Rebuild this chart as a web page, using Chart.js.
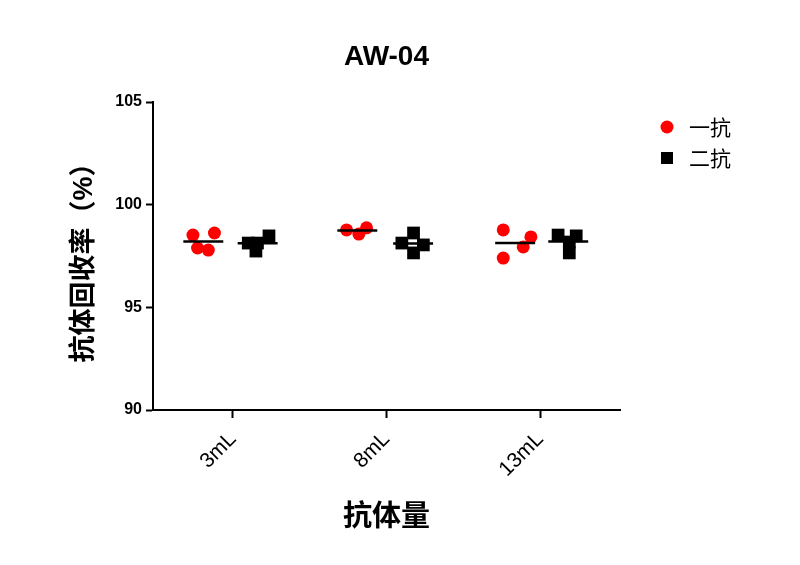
<!DOCTYPE html>
<html>
<head>
<meta charset="utf-8">
<script src="https://cdn.jsdelivr.net/npm/chart.js@4.4.0/dist/chart.umd.min.js"></script>
<style>html,body{margin:0;background:#fff;}</style>
</head>
<body>
<canvas id="chart" width="800" height="565"></canvas>
<script>
// categorías del eje x y su posición en el eje lineal
const categories = ['3mL', '8mL', '13mL'];
const categoryPos = [1, 2, 3];
const seriesNames = ['一抗', '二抗'];

// 一抗 (rojo): valores y posición x de cada punto
const primaryY = [
  [98.52, 98.62, 97.89, 97.79],
  [98.77, 98.87, 98.57],
  [98.77, 98.43, 97.94, 97.40]
];
const primaryX = [
  [0.74, 0.88, 0.77, 0.84],
  [1.74, 1.87, 1.82],
  [2.76, 2.94, 2.89, 2.76]
];

// 二抗 (negro)
const secondaryY = [
  [98.48, 98.13, 98.13, 97.74],
  [98.62, 98.13, 98.04, 97.65],
  [98.52, 98.48, 98.18, 97.65]
];
const secondaryX = [
  [1.235, 1.10, 1.16, 1.15],
  [2.176, 2.10, 2.24, 2.176],
  [3.117, 3.235, 3.19, 3.19]
];

const yTicks = [90, 95, 100, 105];

const CJK = "'Liberation Sans', Arial, 'Noto Sans CJK SC', sans-serif";
const mean = a => a.reduce((s, v) => s + v, 0) / a.length;
const toPoints = (xs, ys) => xs.flatMap((row, i) => row.map((x, j) => ({x, y: ys[i][j]})));

// líneas de media (segmento corto centrado en cada grupo)
const meanDatasets = [];
[[primaryX, primaryY], [secondaryX, secondaryY]].forEach(([xs, ys]) => {
  xs.forEach((row, i) => {
    const c = mean(row), m = mean(ys[i]);
    meanDatasets.push({
      data: [{x: c - 0.13, y: m}, {x: c + 0.13, y: m}],
      showLine: true, pointRadius: 0, borderColor: '#000', borderWidth: 2.5, order: 0
    });
  });
});

const datasets = [
  {label: seriesNames[0], data: toPoints(primaryX, primaryY), pointStyle: 'circle',
   pointRadius: 6.5, backgroundColor: '#ff0000', borderWidth: 0, order: 1},
  {label: seriesNames[1], data: toPoints(secondaryX, secondaryY), pointStyle: 'rect',
   pointRadius: 9, backgroundColor: '#000', borderWidth: 0, order: 1},
  ...meanDatasets
];

// leyenda a la derecha, dibujada a mano
const sideLegend = {
  id: 'sideLegend',
  afterDraw(chart) {
    const {ctx, chartArea} = chart;
    const x = chartArea.right + 47;
    ctx.save();
    ctx.font = "21px 'Noto Sans CJK SC', sans-serif";
    ctx.textBaseline = 'middle';
    [0, 1].forEach(i => {
      const ds = chart.data.datasets[i];
      const y = chartArea.top + 25 + i * 31;
      ctx.fillStyle = ds.backgroundColor;
      if (ds.pointStyle === 'circle') {
        ctx.beginPath(); ctx.arc(x, y, 6.5, 0, Math.PI * 2); ctx.fill();
      } else {
        ctx.fillRect(x - 6, y - 6, 12, 12);
      }
      ctx.fillStyle = '#000';
      ctx.fillText(ds.label, x + 22, y);
    });
    ctx.restore();
  }
};

new Chart(document.getElementById('chart').getContext('2d'), {
  type: 'scatter',
  data: {datasets},
  plugins: [sideLegend],
  options: {
    responsive: false,
    animation: false,
    devicePixelRatio: 1,
    events: [],
    layout: {padding: {top: 0, right: 180, bottom: 0, left: 0}},
    plugins: {
      legend: {display: false},
      tooltip: {enabled: false},
      title: {
        display: true, text: 'AW-04', color: '#000', fullSize: false,
        font: {family: CJK, size: 28, weight: 'bold'},
        padding: {top: 40, bottom: 28.4}
      }
    },
    scales: {
      x: {
        type: 'linear', min: 0.48, max: 3.52,
        afterBuildTicks: s => { s.ticks = categoryPos.map(v => ({value: v})); },
        afterFit: s => { s.height = 155; },
        ticks: {
          callback: v => categories[categoryPos.indexOf(v)],
          minRotation: 45, maxRotation: 45, autoSkip: false,
          color: '#000', padding: 9,
          font: {family: CJK, size: 21}
        },
        grid: {drawOnChartArea: false, drawTicks: true, tickLength: 8, tickWidth: 2, tickColor: '#000'},
        border: {color: '#000', width: 2},
        title: {
          display: true, text: '抗体量', color: '#000',
          font: {family: CJK, size: 29, weight: 'bold'},
          padding: {top: 0, bottom: 30}
        }
      },
      y: {
        min: 90, max: 105,
        afterBuildTicks: s => { s.ticks = yTicks.map(v => ({value: v})); },
        afterFit: s => { s.width = 153; },
        ticks: {color: '#000', padding: 4, font: {family: CJK, size: 16, weight: 'bold'}},
        grid: {drawOnChartArea: false, drawTicks: true, tickLength: 7, tickWidth: 2, tickColor: '#000'},
        border: {color: '#000', width: 2},
        title: {
          display: true, text: '抗体回收率（%）', color: '#000',
          font: {family: CJK, size: 27, weight: 'bold'},
          padding: {top: 68, bottom: 0}
        }
      }
    }
  }
});
</script>
</body>
</html>
